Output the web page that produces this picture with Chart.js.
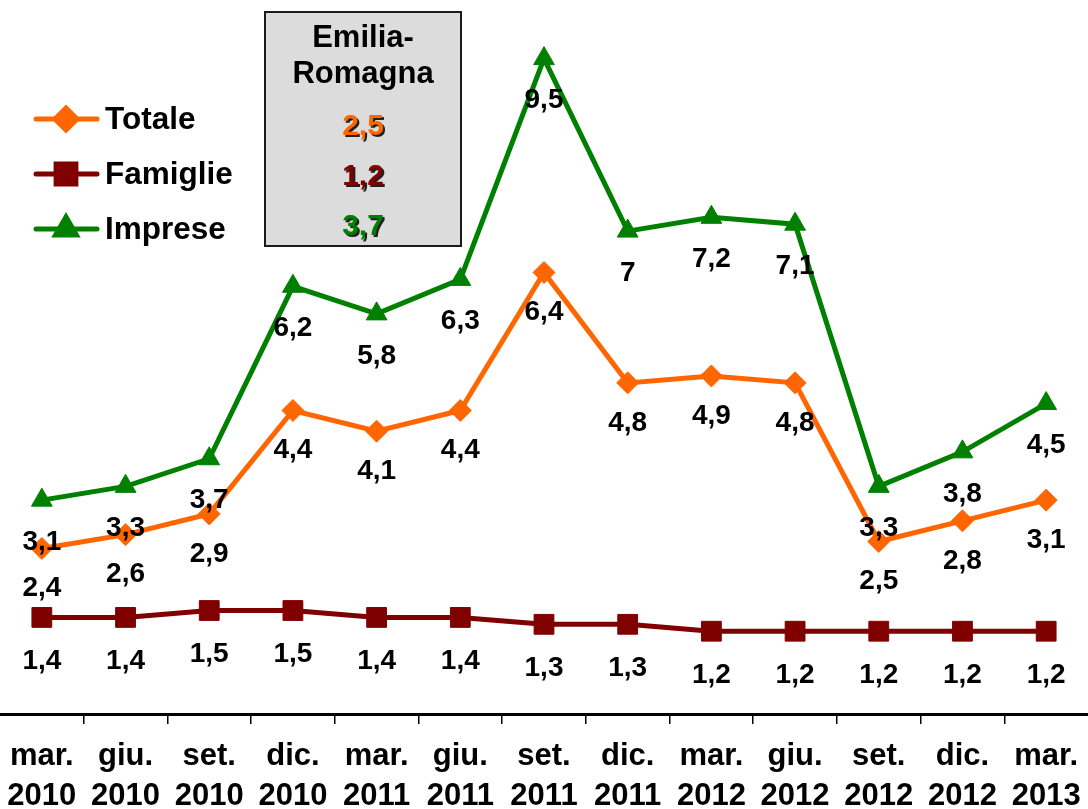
<!DOCTYPE html>
<html><head><meta charset="utf-8">
<script src="https://cdn.jsdelivr.net/npm/chart.js@4/dist/chart.umd.min.js"></script>
<style>html,body{margin:0;padding:0;background:#fff;overflow:hidden}#wrap{width:1088px;height:809px;position:relative}</style>
</head><body><div id="wrap"><canvas id="c"></canvas></div>
<script>
const categories = [['mar.','2010'],['giu.','2010'],['set.','2010'],['dic.','2010'],['mar.','2011'],['giu.','2011'],['set.','2011'],['dic.','2011'],['mar.','2012'],['giu.','2012'],['set.','2012'],['dic.','2012'],['mar.','2013']];
const totale   = [2.4, 2.6, 2.9, 4.4, 4.1, 4.4, 6.4, 4.8, 4.9, 4.8, 2.5, 2.8, 3.1];
const famiglie = [1.4, 1.4, 1.5, 1.5, 1.4, 1.4, 1.3, 1.3, 1.2, 1.2, 1.2, 1.2, 1.2];
const imprese  = [3.1, 3.3, 3.7, 6.2, 5.8, 6.3, 9.5, 7.0, 7.2, 7.1, 3.3, 3.8, 4.5];
const seriesNames = ['Totale', 'Famiglie', 'Imprese'];
const regionTitle = ['Emilia-', 'Romagna'];
const regionValues = [2.5, 1.2, 3.7];

const FONT = '"Liberation Sans", Arial, sans-serif';
const colors = ['#FF6600', '#800000', '#008000'];
const styles = ['rectRot', 'rect', 'triangle'];
const radii = [11, 14, 12];
const labelOffsets = [40, 44, 42];
const fmt = v => String(v).replace('.', ',');

const labelsPlugin = {
  id: 'valueLabels',
  afterDatasetsDraw(chart) {
    const ctx = chart.ctx;
    ctx.save();
    ctx.font = 'bold 28px ' + FONT;
    ctx.fillStyle = '#000';
    ctx.textAlign = 'center';
    ctx.textBaseline = 'middle';
    chart.data.datasets.forEach((ds, i) => {
      const meta = chart.getDatasetMeta(i);
      meta.data.forEach((pt, j) => {
        ctx.fillText(fmt(ds.data[j]), pt.x, pt.y + labelOffsets[i]);
      });
    });
    ctx.restore();
  }
};

const legendPlugin = {
  id: 'customLegend',
  afterDraw(chart) {
    const ctx = chart.ctx;
    ctx.save();
    chart.data.datasets.forEach((ds, i) => {
      const y = 119 + i * 55;
      ctx.strokeStyle = ds.borderColor;
      ctx.lineWidth = 5;
      ctx.lineCap = 'round';
      ctx.beginPath(); ctx.moveTo(36, y); ctx.lineTo(97, y); ctx.stroke();
      ctx.fillStyle = ds.borderColor;
      Chart.helpers.drawPoint(ctx, {pointStyle: ds.pointStyle, radius: ds.pointRadius, rotation: 0, borderWidth: 1}, 66, y);
      ctx.fill();
      ctx.fillStyle = '#000';
      ctx.font = 'bold 31.5px ' + FONT;
      ctx.textAlign = 'left';
      ctx.textBaseline = 'middle';
      ctx.fillText(ds.label, 105, y + 1);
    });
    // region box
    ctx.fillStyle = '#DCDCDC';
    ctx.fillRect(265, 12, 196, 234);
    ctx.strokeStyle = '#1a1a1a';
    ctx.lineWidth = 2;
    ctx.strokeRect(265, 12, 196, 234);
    ctx.fillStyle = '#000';
    ctx.textAlign = 'center';
    ctx.textBaseline = 'alphabetic';
    ctx.font = 'bold 31px ' + FONT;
    regionTitle.forEach((t, k) => ctx.fillText(t, 363, 47 + k * 36));
    ctx.font = 'bold 30px ' + FONT;
    regionValues.forEach((v, k) => {
      ctx.save();
      ctx.shadowColor = 'rgba(0,0,0,0.85)';
      ctx.shadowOffsetX = 2; ctx.shadowOffsetY = 2; ctx.shadowBlur = 0;
      ctx.fillStyle = colors[k];
      ctx.fillText(fmt(v), 363, 135 + k * 50);
      ctx.restore();
    });
    ctx.restore();
  }
};

const mk = (i, data) => ({
  label: seriesNames[i], data,
  borderColor: colors[i], backgroundColor: colors[i],
  borderWidth: 5, pointStyle: styles[i], pointRadius: radii[i],
  pointBorderWidth: 1, pointBackgroundColor: colors[i], pointBorderColor: colors[i],
  tension: 0, clip: false
});

new Chart(document.getElementById('c'), {
  type: 'line',
  data: { labels: categories, datasets: [mk(0, totale), mk(1, famiglie), mk(2, imprese)] },
  options: {
    responsive: true, maintainAspectRatio: false, animation: false, devicePixelRatio: 1,
    layout: { autoPadding: false, padding: { left: 0, right: 0, top: 0, bottom: 0 } },
    plugins: { legend: { display: false }, title: { display: false }, tooltip: { enabled: false } },
    scales: {
      x: {
        type: 'category', offset: true,
        grid: {
          display: true, offset: true, drawOnChartArea: false, drawTicks: true, tickLength: 10, lineWidth: 1.5,
          color: c => (c.index > 0 && c.index < categories.length) ? '#000' : 'rgba(0,0,0,0)'
        },
        border: { display: true, color: '#000', width: 3 },
        ticks: { color: '#000', font: { family: FONT, size: 31, weight: 'bold', lineHeight: 1.3 }, padding: 12, maxRotation: 0, autoSkip: false },
        afterFit: s => { s.height = 95; s.paddingLeft = 0; s.paddingRight = 0; }
      },
      y: { display: false, min: 0, max: 10.35 }
    }
  },
  plugins: [labelsPlugin, legendPlugin]
});
</script></body></html>
